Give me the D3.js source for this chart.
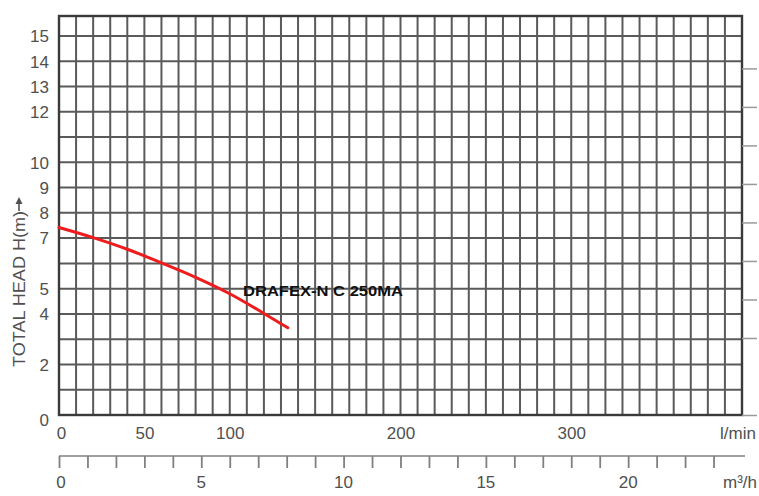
<!DOCTYPE html>
<html>
<head>
<meta charset="utf-8">
<script src="https://cdn.jsdelivr.net/npm/d3@7"></script>
<style>
  html, body { margin: 0; padding: 0; background: #fff; }
  svg { display: block; }
  text { font-family: "Liberation Sans", Arial, sans-serif; }
</style>
</head>
<body>
<svg id="chart" width="759" height="496"></svg>
<script>
// ---- data ----
const flowLmin = [0, 20, 40, 60, 80, 100, 120, 134];
const headM    = [7.42, 7.02, 6.56, 6.02, 5.45, 4.8, 4.02, 3.45];
const seriesName = "DRAFEX-N C 250MA";

const yTickLabels = [0, 2, 4, 5, 7, 8, 9, 10, 12, 13, 14, 15];
const yGridValues = d3.range(1, 16);
const xTickLabels = [0, 50, 100, 200, 300];
const xGridValues = d3.range(10, 400, 10);
const m3hTickLabels = [0, 5, 10, 15, 20];
const m3hTickValues = d3.range(0, 24, 1);
const ftTickValues = [0, 10, 15, 20, 25, 30, 35, 40, 45];
const xUnit = "l/min";
const m3hUnit = "m³/h";
const yTitle = "TOTAL HEAD H(m)";

// ---- scales ----
const svg = d3.select("#chart");
const x = d3.scaleLinear().domain([0, 400]).range([59, 742]);
const y = d3.scaleLinear().domain([0, 15.79]).range([415, 16]);
const xm3 = d3.scaleLinear().domain([0, 24]).range([x(0), x(400)]); // 1 m3/h = 16.667 l/min
const yft = d3.scaleLinear().domain([0, 15.79 * 3.2808]).range([415, 16]);

const gridColor = "#5a5a5a";
const textColor = "#505050";

// grid
const g = svg.append("g");
g.selectAll("line.h").data(yGridValues).join("line")
  .attr("x1", x(0)).attr("x2", x(400))
  .attr("y1", d => y(d)).attr("y2", d => y(d))
  .attr("stroke", gridColor).attr("stroke-width", 2);
g.selectAll("line.v").data(xGridValues).join("line")
  .attr("y1", y(0)).attr("y2", y(15.79))
  .attr("x1", d => x(d)).attr("x2", d => x(d))
  .attr("stroke", gridColor).attr("stroke-width", 2);

// frame
svg.append("rect")
  .attr("x", x(0)).attr("y", y(15.79))
  .attr("width", x(400) - x(0)).attr("height", y(0) - y(15.79))
  .attr("fill", "none").attr("stroke", "#3a3a3a").attr("stroke-width", 2.4);

// right ft ticks (unlabelled)
svg.append("g").attr("transform", `translate(${x(400)},0)`)
  .call(d3.axisRight(yft).tickValues(ftTickValues).tickSize(15).tickFormat(""))
  .call(a => a.select(".domain").remove())
  .call(a => a.selectAll("line").attr("stroke", "#9a9a9a").attr("stroke-width", 1.5));

// y axis labels
const yAx = svg.append("g").attr("transform", `translate(${x(0)},0)`)
  .call(d3.axisLeft(y).tickValues(yTickLabels).tickSize(0).tickPadding(10).tickFormat(d3.format("d")));
yAx.select(".domain").remove();
yAx.selectAll("text")
  .attr("font-size", 17).attr("fill", textColor)
  .attr("font-family", "'Liberation Sans', Arial, sans-serif")
  .attr("dy", d => d === 0 ? "0.62em" : "0.34em");

// x axis labels (l/min)
const xAx = svg.append("g").attr("transform", `translate(0,${y(0)})`)
  .call(d3.axisBottom(x).tickValues(xTickLabels).tickSize(0).tickPadding(12).tickFormat(d3.format("d")));
xAx.select(".domain").remove();
xAx.selectAll("text").attr("font-size", 17).attr("fill", textColor)
  .attr("font-family", "'Liberation Sans', Arial, sans-serif")
  .attr("dx", d => d === 0 ? 2 : 0);
svg.append("text").attr("x", 756).attr("y", 439).attr("text-anchor", "end")
  .attr("font-size", 17).attr("fill", textColor).text(xUnit);

// m3/h axis
const mAx = svg.append("g").attr("transform", `translate(0,456)`)
  .call(d3.axisBottom(xm3).tickValues(m3hTickValues).tickSize(12).tickPadding(0).tickFormat(""));
mAx.select(".domain").attr("d", `M${x(0)},0H745`).attr("stroke", "#808080").attr("stroke-width", 1.6);
mAx.selectAll("line").attr("stroke", "#808080").attr("stroke-width", 1.8);
svg.append("g").selectAll("text").data(m3hTickLabels).join("text")
  .attr("x", d => xm3(d) + (d === 0 ? 2 : 0)).attr("y", 488)
  .attr("text-anchor", "middle").attr("font-size", 17).attr("fill", textColor)
  .text(d => d);
svg.append("text").attr("x", 757).attr("y", 488).attr("text-anchor", "end")
  .attr("font-size", 17).attr("fill", textColor).text(m3hUnit);

// y title
svg.append("text")
  .attr("transform", "translate(25,367) rotate(-90)")
  .attr("font-size", 16).attr("fill", textColor)
  .attr("textLength", 156).attr("lengthAdjust", "spacingAndGlyphs")
  .text(yTitle);
// arrow after title (pointing up)
svg.append("path").attr("d", "M19,211 V203").attr("stroke", textColor).attr("stroke-width", 1.6);
svg.append("path").attr("d", "M15.5,204 L19,197 L22.5,204 Z").attr("fill", textColor);

// curve
const pts = flowLmin.map((q, i) => [q, headM[i]]);
svg.append("path").datum(pts)
  .attr("fill", "none").attr("stroke", "#ee1c1c").attr("stroke-width", 3)
  .attr("stroke-linecap", "round")
  .attr("d", d3.line().x(d => x(d[0])).y(d => y(d[1])).curve(d3.curveCatmullRom));

// series label
svg.append("text").attr("x", 243).attr("y", 296)
  .attr("font-size", 14).attr("font-weight", "bold").attr("fill", "#111")
  .attr("textLength", 160).attr("lengthAdjust", "spacingAndGlyphs")
  .text(seriesName);
</script>
</body>
</html>
